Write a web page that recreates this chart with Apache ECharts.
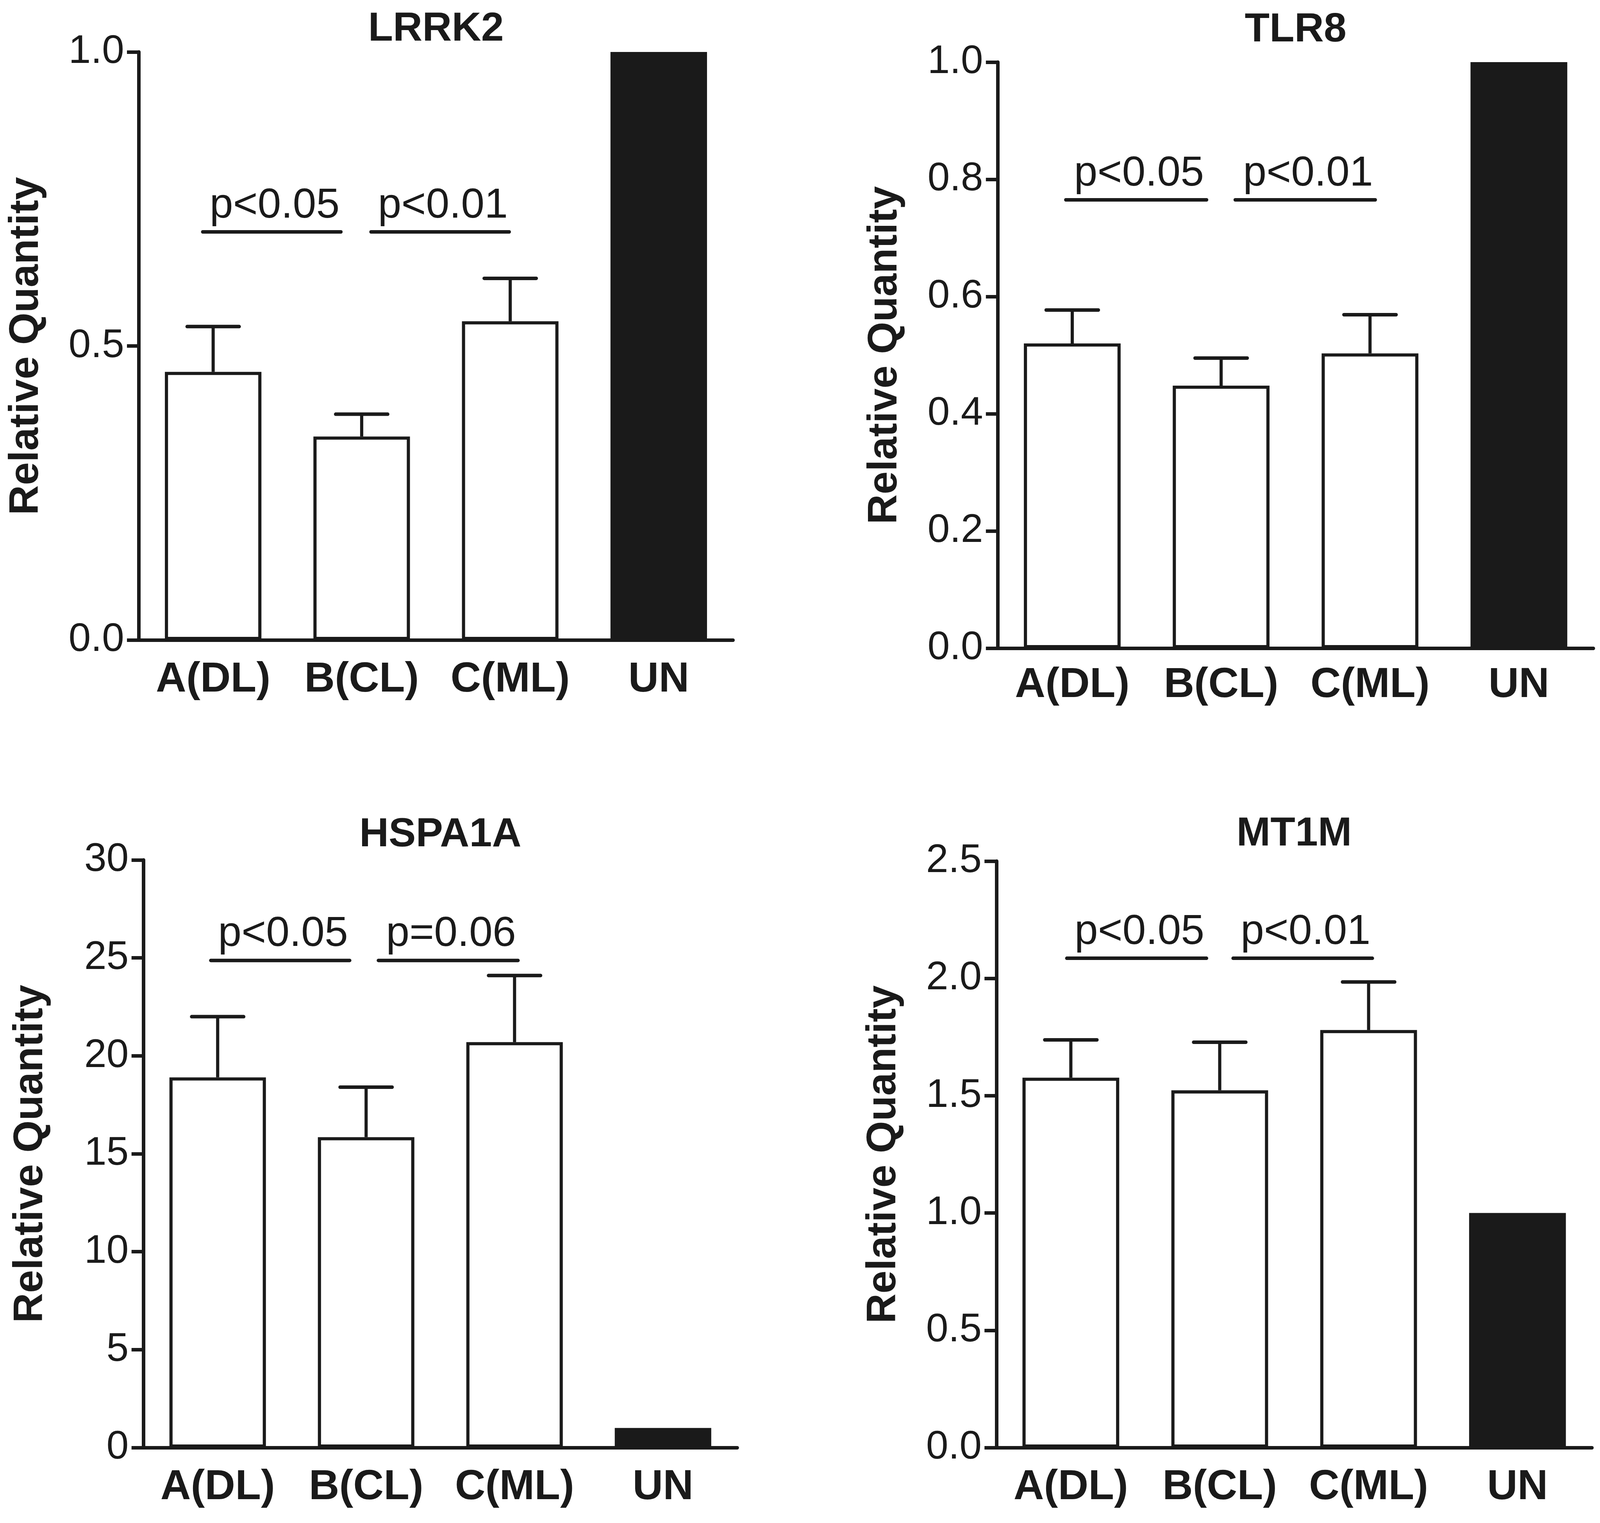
<!DOCTYPE html>
<html>
<head>
<meta charset="utf-8">
<title>Relative Quantity</title>
<script src="https://cdn.jsdelivr.net/npm/echarts@6/dist/echarts.min.js"></script>
<style>
    html, body { margin: 0; padding: 0; background: #ffffff; overflow: hidden; }
    #chart { width: 100vw; height: 100vh; }
</style>
</head>
<body>
<div id="chart"></div>
<script>
// data
const categories = ['A(DL)', 'B(CL)', 'C(ML)', 'UN'];

const lrrk2Means = [0.456, 0.346, 0.542, 1.0];
const lrrk2Errors = [0.077, 0.038, 0.073, null];
const lrrk2Ticks = [0, 0.5, 1.0];
const lrrk2Brackets = [[-0.07, 0.86, 0.694], [1.063, 1.993, 0.694]];
const lrrk2Pvalues = ['p<0.05', 'p<0.01'];

const tlr8Means = [0.520, 0.448, 0.503, 1.0];
const tlr8Errors = [0.057, 0.047, 0.066, null];
const tlr8Ticks = [0, 0.2, 0.4, 0.6, 0.8, 1.0];
const tlr8Brackets = [[-0.043, 0.902, 0.765], [1.095, 2.035, 0.765]];
const tlr8Pvalues = ['p<0.05', 'p<0.01'];

const hspa1aMeans = [18.9, 15.85, 20.7, 1.0];
const hspa1aErrors = [3.1, 2.55, 3.4, null];
const hspa1aTicks = [0, 5, 10, 15, 20, 25, 30];
const hspa1aBrackets = [[-0.046, 0.889, 24.87], [1.083, 2.023, 24.87]];
const hspa1aPvalues = ['p<0.05', 'p=0.06'];

const mt1mMeans = [1.577, 1.523, 1.780, 1.0];
const mt1mErrors = [0.161, 0.205, 0.205, null];
const mt1mTicks = [0, 0.5, 1.0, 1.5, 2.0, 2.5];
const mt1mBrackets = [[-0.027, 0.911, 2.086], [1.090, 2.025, 2.086]];
const mt1mPvalues = ['p<0.05', 'p<0.01'];

const INK = '#1a1a1a';
const FONT = '"Liberation Sans", Arial, Helvetica, sans-serif';

// layout measured on a 4562x3898 page, scaled to the real window
const W0 = 4562, H0 = 3898;
const W = window.innerWidth || W0, H = window.innerHeight || H0;
const sx = W / W0, sy = H / H0, s = Math.min(sx, sy);

const panels = [
    { title: 'LRRK2', means: lrrk2Means, errors: lrrk2Errors, ticks: lrrk2Ticks, digits: 1,
      brackets: lrrk2Brackets, pvalues: lrrk2Pvalues,
      box: [396, 133, 2090, 1638], titleY: 75, labelGap: 54 },
    { title: 'TLR8', means: tlr8Means, errors: tlr8Errors, ticks: tlr8Ticks, digits: 1,
      brackets: tlr8Brackets, pvalues: tlr8Pvalues,
      box: [2845, 159, 4543, 1659], titleY: 77, labelGap: 46 },
    { title: 'HSPA1A', means: hspa1aMeans, errors: hspa1aErrors, ticks: hspa1aTicks, digits: 0,
      brackets: hspa1aBrackets, pvalues: hspa1aPvalues,
      box: [409, 2201, 2102, 3705], titleY: 2137, labelGap: 54 },
    { title: 'MT1M', means: mt1mMeans, errors: mt1mErrors, ticks: mt1mTicks, digits: 1,
      brackets: mt1mBrackets, pvalues: mt1mPvalues,
      box: [2841, 2204, 4539, 3705], titleY: 2135, labelGap: 54 }
];

const chart = echarts.init(document.getElementById('chart'), null, { renderer: 'canvas' });

const grid = [], xAxis = [], yAxis = [], series = [], graphic = [];

panels.forEach((p, k) => {
    const [x0, y0, x1, y1] = p.box;
    grid.push({ left: x0 * sx, top: y0 * sy, width: (x1 - x0) * sx, height: (y1 - y0) * sy, containLabel: false });

    // category axis for bars, hidden value axis for the significance lines
    xAxis.push({
        type: 'category', gridIndex: k, data: categories,
        axisLine: { onZero: false, lineStyle: { color: INK, width: 10 * s } },
        axisTick: { show: false },
        axisLabel: { interval: 0, color: INK, fontSize: 120 * s, fontWeight: 'bold', fontFamily: FONT,
                     margin: p.labelGap * s },
        splitLine: { show: false }
    });
    xAxis.push({ type: 'value', gridIndex: k, min: -0.5, max: 3.5, show: false });

    const step = p.ticks[1] - p.ticks[0];
    yAxis.push({
        type: 'value', gridIndex: k,
        min: p.ticks[0], max: p.ticks[p.ticks.length - 1], interval: step,
        name: 'Relative Quantity', nameLocation: 'middle', nameGap: 262 * s,
        nameTextStyle: { color: INK, fontSize: 118 * s, fontWeight: 'bold', fontFamily: FONT },
        axisLine: { show: true, onZero: false, lineStyle: { color: INK, width: 10 * s } },
        axisTick: { show: true, length: 34 * s, lineStyle: { color: INK, width: 10 * s } },
        axisLabel: { color: INK, fontSize: 114 * s, fontFamily: FONT, margin: 42 * s,
                     formatter: v => v.toFixed(p.digits) },
        splitLine: { show: false }
    });

    series.push({
        type: 'bar', xAxisIndex: 2 * k, yAxisIndex: k, barWidth: '65%',
        data: p.means.map((m, i) => ({
            value: m,
            itemStyle: i === 3
                ? { color: INK, borderColor: INK, borderWidth: 9 * s }
                : { color: '#ffffff', borderColor: INK, borderWidth: 9 * s }
        })),
        animation: false
    });

    // upward error bars (mean .. mean + SEM)
    series.push({
        type: 'custom', xAxisIndex: 2 * k, yAxisIndex: k, z: 3, clip: false,
        data: p.errors.map((e, i) => [i, p.means[i], e]).filter(d => d[2] != null),
        encode: { x: 0, y: 1 },
        renderItem: (params, api) => {
            const i = api.value(0), m = api.value(1), e = api.value(2);
            const base = api.coord([i, m]);
            const top = api.coord([i, m + e]);
            const half = api.size([1, 0])[0] * 0.175;
            return {
                type: 'group',
                children: [
                    { type: 'line', shape: { x1: base[0], y1: base[1], x2: top[0], y2: top[1] },
                      style: { stroke: INK, lineWidth: 9 * s } },
                    { type: 'line', shape: { x1: top[0] - half, y1: top[1], x2: top[0] + half, y2: top[1] },
                      style: { stroke: INK, lineWidth: 10 * s, lineCap: 'round' } }
                ]
            };
        },
        animation: false
    });

    // significance lines with p-values
    series.push({
        type: 'custom', xAxisIndex: 2 * k + 1, yAxisIndex: k, z: 3, clip: false,
        data: p.brackets,
        encode: { x: [0, 1], y: 2 },
        renderItem: (params, api) => {
            const y = api.value(2);
            const a = api.coord([api.value(0), y]);
            const b = api.coord([api.value(1), y]);
            return {
                type: 'group',
                children: [
                    { type: 'line', shape: { x1: a[0], y1: a[1], x2: b[0], y2: b[1] },
                      style: { stroke: INK, lineWidth: 10 * s, lineCap: 'round' } },
                    { type: 'text', x: (a[0] + b[0]) / 2 + 8 * s, y: a[1] - 14 * s,
                      style: { text: p.pvalues[params.dataIndex], fill: INK, fontSize: 120 * s,
                               fontFamily: FONT, align: 'center', verticalAlign: 'bottom' } }
                ]
            };
        },
        animation: false
    });

    graphic.push({
        type: 'text', x: (x0 + x1) / 2 * sx, y: p.titleY * sy,
        style: { text: p.title, fill: INK, fontSize: 116 * s, fontWeight: 'bold', fontFamily: FONT,
                 align: 'center', verticalAlign: 'middle' }
    });
});

chart.setOption({
    backgroundColor: '#ffffff',
    animation: false,
    grid: grid,
    xAxis: xAxis,
    yAxis: yAxis,
    series: series,
    graphic: graphic
});
</script>
</body>
</html>
